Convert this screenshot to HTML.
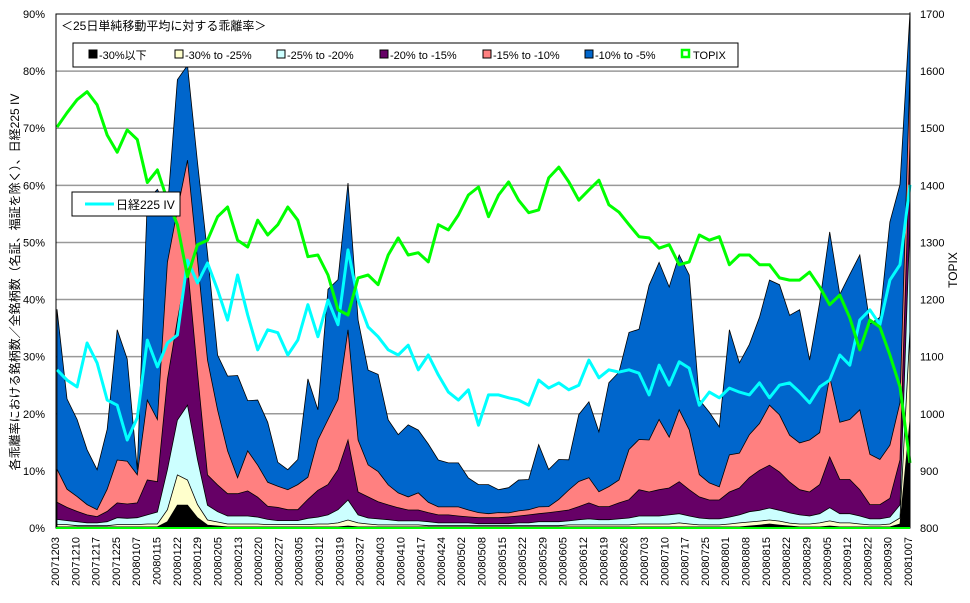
<!DOCTYPE html>
<html><head><meta charset="utf-8"><style>
html,body{margin:0;padding:0;background:#fff;}
svg{display:block;font-family:"Liberation Sans","Noto Sans CJK JP",sans-serif;}
</style></head><body>
<svg id="chart" width="970" height="603" viewBox="0 0 970 603" xmlns="http://www.w3.org/2000/svg">
<rect width="970" height="603" fill="#fff"/>
<g id="grid"></g>
<g id="areas"></g>
<g id="lines"></g>
<rect x="56" y="14" width="854" height="514" fill="none" stroke="#000" stroke-width="1"/>
<line x1="56" y1="528" x2="910" y2="528" stroke="#00ff00" stroke-width="2"/>
<g id="yticks"></g>
<g id="rticks"></g>
<g id="xticks"></g>
<text transform="translate(19,282) rotate(-90)" text-anchor="middle" font-size="12">各乖離率における銘柄数／全銘柄数（名証、福証を除く）、日経225 IV</text>
<text transform="translate(957,270) rotate(-90)" text-anchor="middle" font-size="12">TOPIX</text>
<text x="61" y="30" font-size="12">＜25日単純移動平均に対する乖離率＞</text>
<g>
<rect x="73" y="43" width="665" height="24" fill="#fff" stroke="#000"/>
<g><rect x="89" y="50" width="8" height="8" fill="#000" stroke="#000"/><text x="99" y="59" font-size="11">-30%以下</text></g>
<g><rect x="175" y="50" width="8" height="8" fill="#ffffcc" stroke="#000"/><text x="185" y="59" font-size="11">-30% to -25%</text></g>
<g><rect x="277" y="50" width="8" height="8" fill="#ccffff" stroke="#000"/><text x="287" y="59" font-size="11">-25% to -20%</text></g>
<g><rect x="380" y="50" width="8" height="8" fill="#660066" stroke="#000"/><text x="390" y="59" font-size="11">-20% to -15%</text></g>
<g><rect x="483" y="50" width="8" height="8" fill="#ff8080" stroke="#000"/><text x="493" y="59" font-size="11">-15% to -10%</text></g>
<g><rect x="585" y="50" width="8" height="8" fill="#0066cc" stroke="#000"/><text x="595" y="59" font-size="11">-10% to -5%</text></g>
<g><rect x="682" y="50" width="7" height="7" fill="#fff" stroke="#00ff00" stroke-width="2.5"/><text x="693" y="59" font-size="11">TOPIX</text></g>
</g>
<g>
<rect x="72" y="192" width="108" height="24" fill="#fff" stroke="#000"/>
<line x1="85" y1="204" x2="114" y2="204" stroke="#00ffff" stroke-width="3"/>
<text x="116" y="209" font-size="12">日経225 IV</text>
</g>
</svg>
<script>
const dates=["20071203","20071210","20071217","20071225","20080107","20080115","20080122","20080129","20080205","20080213","20080220","20080227","20080305","20080312","20080319","20080327","20080403","20080410","20080417","20080424","20080502","20080508","20080515","20080522","20080529","20080605","20080612","20080619","20080626","20080703","20080710","20080717","20080725","20080801","20080808","20080815","20080822","20080829","20080905","20080912","20080922","20080930","20081007"];
const leftTicks=["0%","10%","20%","30%","40%","50%","60%","70%","80%","90%"];
const rightTicks=["800","900","1000","1100","1200","1300","1400","1500","1600","1700"];
const bandBlack=[0.2,0.2,0.2,0.2,0.2,0.2,0.2,0.2,0.2,0.2,0.2,1.1,4.0,4.0,1.8,0.5,0.35,0.2,0.2,0.2,0.2,0.2,0.2,0.2,0.2,0.2,0.2,0.2,0.2,0.35,0.2,0.2,0.2,0.2,0.2,0.2,0.2,0.2,0.2,0.2,0.2,0.2,0.2,0.2,0.2,0.2,0.2,0.2,0.2,0.2,0.2,0.2,0.2,0.2,0.2,0.2,0.2,0.2,0.2,0.2,0.2,0.2,0.2,0.2,0.2,0.2,0.2,0.2,0.2,0.35,0.5,0.7,0.5,0.35,0.2,0.2,0.2,0.35,0.2,0.2,0.2,0.2,0.2,0.2,0.7,18.9];
const bandBeige=[0.4,0.4,0.2,0.2,0.2,0.2,0.4,0.4,0.4,0.5,0.5,2.1,5.3,4.4,2.3,0.9,0.7,0.5,0.5,0.5,0.5,0.4,0.4,0.4,0.4,0.4,0.5,0.5,0.7,1.05,0.7,0.5,0.35,0.35,0.35,0.35,0.35,0.2,0.2,0.2,0.2,0.2,0.2,0.2,0.2,0.2,0.2,0.2,0.2,0.2,0.2,0.35,0.35,0.35,0.35,0.35,0.35,0.35,0.5,0.5,0.5,0.5,0.7,0.5,0.35,0.35,0.35,0.5,0.7,0.7,0.7,0.7,0.7,0.5,0.5,0.5,0.7,0.9,0.7,0.7,0.5,0.35,0.35,0.5,1.05,15.8];
const bandCyan=[0.9,0.7,0.7,0.5,0.5,0.7,1.2,1.1,1.2,1.6,2.1,7.0,9.6,13.1,7.9,2.6,1.8,1.4,1.4,1.4,1.2,0.9,0.7,0.7,0.7,1.1,1.2,1.6,2.3,3.5,1.4,1.05,1.05,0.9,0.7,0.7,0.7,0.7,0.5,0.5,0.5,0.5,0.35,0.35,0.35,0.35,0.5,0.5,0.7,0.7,0.7,0.7,0.9,1.05,0.9,0.9,1.05,1.2,1.4,1.4,1.4,1.6,1.6,1.4,1.2,1.05,1.05,1.2,1.4,1.8,1.9,2.1,1.9,1.8,1.6,1.4,1.6,2.3,1.6,1.6,1.4,1.05,1.05,1.2,2.3,19.3];
const bandPurple=[3.0,2.3,1.8,1.4,1.1,1.8,2.6,2.5,2.6,6.1,5.3,15.8,17.5,24.5,15.2,5.3,4.7,3.9,3.9,4.4,3.5,2.3,2.3,1.9,1.9,3.3,4.7,5.3,7.0,10.5,4.0,3.7,3.0,2.6,2.3,1.9,1.9,1.6,1.4,1.4,1.2,1.05,1.05,1.05,1.05,1.2,1.2,1.4,1.4,1.6,1.8,1.9,2.3,2.8,2.3,2.3,2.8,3.2,4.6,4.2,4.6,4.7,5.6,4.6,3.7,3.3,3.3,4.4,4.7,6.0,7.0,7.5,6.7,5.4,4.4,4.2,5.1,8.9,6.0,6.0,4.6,2.5,2.5,3.3,7.9,13.5];
const bandRed=[5.8,3.2,2.6,1.8,1.2,3.9,7.5,7.5,4.9,14.0,10.9,20.5,19.3,18.4,19.8,20.1,13.1,7.5,2.8,7.0,5.6,4.2,3.7,3.5,4.4,3.9,8.8,11.4,12.3,19.3,9.1,5.6,5.3,3.5,2.6,2.3,3.0,1.8,1.4,1.4,1.6,1.2,0.9,0.7,0.9,0.7,0.9,0.9,1.2,1.05,2.1,3.5,4.4,4.4,2.6,3.5,4.0,8.8,8.8,9.1,12.3,8.9,12.6,10.5,3.9,3.0,2.3,6.5,6.1,7.5,8.2,10.5,10.0,8.2,8.2,9.1,9.1,14.0,10.0,10.5,14.0,8.8,7.9,9.3,10.0,12.8];
const bandBlue=[28.0,15.8,13.5,9.6,7.0,10.5,22.8,17.9,0.9,35.0,40.3,9.3,22.8,16.6,17.0,18.7,9.6,13.1,17.9,8.8,11.4,10.5,4.2,3.5,4.4,17.2,5.3,22.8,21.0,25.7,21.0,16.6,17.0,11.4,10.2,12.6,11.0,10.2,8.2,7.7,7.7,5.6,4.9,5.1,4.0,4.4,5.4,5.3,10.9,6.5,7.0,5.3,11.7,13.3,10.5,18.2,18.9,20.5,19.3,27.1,27.5,26.3,27.1,27.1,13.1,12.4,10.5,21.9,15.8,15.8,18.6,21.9,22.8,21.0,23.3,14.0,22.8,25.4,22.4,25.4,27.1,22.8,24.9,39.1,38.2,10.0];
const topix=[1502,1527,1550,1564,1541,1488,1458,1497,1480,1405,1427,1374,1331,1240,1296,1304,1345,1362,1304,1292,1339,1313,1331,1362,1339,1275,1278,1243,1182,1173,1238,1243,1226,1278,1308,1278,1282,1266,1331,1322,1348,1383,1397,1345,1383,1406,1374,1352,1357,1413,1432,1406,1374,1392,1409,1366,1353,1331,1310,1308,1290,1296,1261,1266,1313,1304,1310,1261,1278,1278,1261,1261,1238,1234,1234,1248,1222,1191,1208,1168,1112,1164,1152,1103,1047,914];
const iv=[27.7,25.9,24.7,32.4,28.9,22.4,21.5,15.4,19.3,32.9,28.2,32.4,33.8,46.9,42.9,46.4,41.7,36.4,44.3,37.3,31.2,34.7,34.2,30.3,32.9,39.1,33.5,39.9,35.6,48.7,39.9,35.2,33.5,31.2,30.3,32.0,27.7,30.3,26.8,23.8,22.4,24.2,18.0,23.3,23.3,22.8,22.4,21.5,25.9,24.5,25.4,24.2,25.0,29.4,26.3,27.7,27.3,27.7,27.1,23.3,28.5,25.0,29.1,28.0,21.5,23.8,22.8,24.5,23.8,23.3,25.4,22.8,25.0,25.4,23.8,21.9,24.7,25.9,30.3,28.5,36.4,38.2,35.6,43.4,46.1,60.1];

const NS="http://www.w3.org/2000/svg";
const X0=57,X1=910,Y0=528,Y1=14;
const n=bandBlue.length;
function xs(i){return X0+(X1-X0)*i/(n-1);}
function yl(p){return Y0-(Y0-Y1)*p/90;}
function yr(v){return Y0-(Y0-Y1)*(v-800)/900;}
function mk(tag,parent){const e=document.createElementNS(NS,tag);parent.appendChild(e);return e;}

const grid=document.getElementById('grid');
for(let k=1;k<leftTicks.length-1;k++){
  const l=mk('line',grid);
  
  
  const y=yl(k*10);
  l.setAttribute('x1',56);l.setAttribute('x2',910);l.setAttribute('y1',y);l.setAttribute('y2',y);
  l.setAttribute('stroke','#999');l.setAttribute('stroke-width','1.5');
}
const yt=document.getElementById('yticks');
leftTicks.forEach((t,k)=>{
  const e=mk('text',yt);
  
  
  e.setAttribute('x',45);e.setAttribute('y',yl(k*10)+4);e.setAttribute('text-anchor','end');e.setAttribute('font-size','11');
  e.textContent=t;
});
const rt=document.getElementById('rticks');
rightTicks.forEach((t)=>{
  const e=mk('text',rt);
  
  
  e.setAttribute('x',920);e.setAttribute('y',yr(+t)+4);e.setAttribute('font-size','11');
  e.textContent=t;
});
const xt=document.getElementById('xticks');
dates.forEach((d,k)=>{
  const x=55+(908-55)*k/(dates.length-1);
  const e=mk('text',xt);
  
  
  e.setAttribute('transform','translate('+(x+4)+',537) rotate(-90)');
  e.setAttribute('text-anchor','end');e.setAttribute('font-size','11');
  e.textContent=d;
});

const bands=[bandBlack,bandBeige,bandCyan,bandPurple,bandRed,bandBlue];
const colors=["#000000","#ffffcc","#ccffff","#660066","#ff8080","#0066cc"];
const names=["area-below-30","area-30-to-25","area-25-to-20","area-20-to-15","area-15-to-10","area-10-to-5"];
const cum=[];let base=new Array(n).fill(0);
bands.forEach(b=>{const top=base.map((v,i)=>v+b[i]);cum.push({lo:base,hi:top});base=top;});
const areas=document.getElementById('areas');
for(let s=bands.length-1;s>=0;s--){
  const {hi}=cum[s];
  let d='M'+xs(0)+','+Y0;
  for(let i=0;i<n;i++)d+=' L'+xs(i).toFixed(1)+','+yl(hi[i]).toFixed(1);
  d+=' L'+xs(n-1)+','+Y0+' Z';
  const p=mk('path',areas);
  
  
  p.setAttribute('d',d);p.setAttribute('fill',colors[s]);p.setAttribute('stroke','#000');p.setAttribute('stroke-width','0.8');
}
const lines=document.getElementById('lines');
function poly(arr,fy,color,name){
  let pts=arr.map((v,i)=>xs(i).toFixed(1)+','+fy(v).toFixed(1)).join(' ');
  const p=mk('polyline',lines);
  
  
  p.setAttribute('points',pts);p.setAttribute('fill','none');p.setAttribute('stroke',color);p.setAttribute('stroke-width','3');p.setAttribute('stroke-linejoin','round');
}
poly(iv,yl,'#00ffff','iv-line');
poly(topix,yr,'#00ff00','topix-line');
</script>
</body></html>
